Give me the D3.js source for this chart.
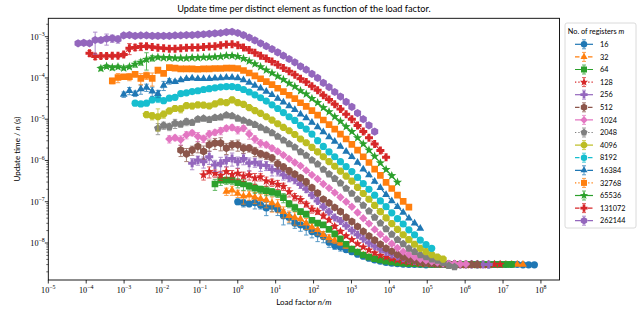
<!DOCTYPE html>
<html>
<head>
<meta charset="utf-8">
<script src="https://cdn.jsdelivr.net/npm/d3@7"></script>
<style>
  body { margin: 0; background: #fff; }
  svg { display: block; }
  text { font-family: Lato, "Noto Sans", sans-serif; fill: #000; }
  .num { font-family: "Liberation Serif", "DejaVu Serif", serif; }
</style>
</head>
<body>
<svg id="chart" width="641" height="311"></svg>
<script>
// number of registers m, one series each
const registers = [16, 32, 64, 128, 256, 512, 1024, 2048, 4096, 8192, 16384, 32768, 65536, 131072, 262144];

// log2 of the number of distinct elements n (same for every series)
const log2Distinct = [4, 4.5, 5, 5.5, 6, 6.5, 7, 7.5, 8, 8.5, 9, 9.5, 10, 10.5, 11, 11.5, 12, 12.5,
  13, 13.5, 14, 14.5, 15, 15.5, 16, 16.5, 17, 17.5, 18, 18.5, 19, 19.5, 20, 20.5, 21, 21.5, 22, 22.5,
  23, 23.5, 24, 24.5, 25, 25.5, 26, 26.5, 27, 27.5, 28, 28.5, 29, 29.5, 30];

// log10 of the update time / n in seconds
const logTime16 = [-7.00, -7.03, -7.05, -7.02, -7.08, -7.15, -7.11, -7.18, -7.34, -7.38, -7.52, -7.56, -7.62, -7.72,
  -7.78, -7.84, -7.98, -8.06, -8.10, -8.16, -8.21, -8.27, -8.32, -8.37, -8.41, -8.44, -8.47, -8.49,
  -8.50, -8.51, -8.52, -8.52, -8.52, -8.53, -8.52, -8.52, -8.52, -8.52, -8.53, -8.52, -8.52, -8.52,
  -8.52, -8.52, -8.53, -8.52, -8.52, -8.52, -8.52, -8.52, -8.53, -8.53, -8.53];
const logTime32 = [-6.75, -6.72, -6.80, -6.87, -6.84, -6.89, -6.93, -6.96, -7.03, -7.08, -7.24, -7.34, -7.38, -7.42,
  -7.52, -7.62, -7.68, -7.80, -7.88, -7.94, -8.00, -8.08, -8.16, -8.23, -8.29, -8.34, -8.38, -8.42,
  -8.45, -8.47, -8.49, -8.50, -8.50, -8.51, -8.52, -8.52, -8.51, -8.52, -8.53, -8.52, -8.52, -8.52,
  -8.52, -8.53, -8.52, -8.52, -8.52, -8.52, -8.53, -8.52, -8.52, -8.52, -8.52];
const logTime64 = [-6.57, -6.48, -6.48, -6.48, -6.54, -6.57, -6.62, -6.67, -6.70, -6.73, -6.76, -6.80, -6.90, -7.05,
  -7.14, -7.24, -7.30, -7.45, -7.52, -7.56, -7.67, -7.78, -7.90, -8.03, -8.15, -8.22, -8.29, -8.34,
  -8.38, -8.41, -8.44, -8.46, -8.48, -8.49, -8.50, -8.50, -8.51, -8.51, -8.52, -8.52, -8.52, -8.53,
  -8.52, -8.52, -8.52, -8.52, -8.53, -8.52, -8.52, -8.52, -8.52, -8.52, -8.52];
const logTime128 = [-6.35, -6.27, -6.31, -6.36, -6.27, -6.34, -6.31, -6.38, -6.35, -6.43, -6.40, -6.50, -6.53, -6.58,
  -6.63, -6.76, -6.88, -6.95, -7.06, -7.18, -7.24, -7.34, -7.44, -7.60, -7.72, -7.83, -7.92, -8.02,
  -8.10, -8.17, -8.24, -8.30, -8.34, -8.38, -8.41, -8.44, -8.46, -8.47, -8.49, -8.50, -8.50, -8.51,
  -8.51, -8.52, -8.52, -8.52, -8.53, -8.52, -8.52, -8.53, -8.52, -8.52, -8.52];
const logTime256 = [-6.07, -5.99, -6.03, -5.91, -6.11, -6.07, -6.00, -5.95, -6.03, -5.95, -6.07, -6.04, -6.11, -6.12,
  -6.22, -6.25, -6.35, -6.42, -6.47, -6.58, -6.70, -6.84, -6.98, -7.12, -7.24, -7.38, -7.47, -7.58,
  -7.70, -7.80, -7.90, -8.00, -8.08, -8.15, -8.22, -8.28, -8.33, -8.37, -8.40, -8.43, -8.45, -8.47,
  -8.48, -8.49, -8.50, -8.51, -8.51, -8.52, -8.52, -8.52, -8.52, -8.52, -8.52];
const logTime512 = [-5.75, -5.84, -5.75, -5.66, -5.78, -5.62, -5.58, -5.58, -5.70, -5.62, -5.62, -5.70, -5.70, -5.78,
  -5.84, -5.88, -5.94, -6.08, -6.16, -6.25, -6.33, -6.42, -6.52, -6.66, -6.79, -6.94, -7.03, -7.14,
  -7.24, -7.38, -7.48, -7.60, -7.72, -7.83, -7.93, -8.03, -8.13, -8.20, -8.28, -8.34, -8.39, -8.42,
  -8.45, -8.47, -8.49, -8.50, -8.50, -8.51, -8.51, -8.52, -8.52, -8.52, -8.52];
const logTime1024 = [-5.48, -5.45, -5.50, -5.38, -5.33, -5.42, -5.47, -5.36, -5.32, -5.28, -5.22, -5.20, -5.26, -5.22,
  -5.36, -5.48, -5.58, -5.62, -5.70, -5.78, -5.87, -5.96, -6.05, -6.13, -6.24, -6.35, -6.45, -6.57,
  -6.67, -6.78, -6.89, -7.00, -7.12, -7.26, -7.40, -7.53, -7.67, -7.79, -7.91, -8.02, -8.12, -8.21,
  -8.28, -8.34, -8.39, -8.42, -8.45, -8.47, -8.49, -8.50, -8.50, -8.51, -8.51];
const logTime2048 = [-5.22, -5.15, -5.18, -5.10, -5.12, -5.06, -5.08, -5.00, -4.98, -5.01, -4.96, -4.95, -4.90, -4.92,
  -4.98, -5.03, -5.08, -5.13, -5.20, -5.26, -5.33, -5.42, -5.51, -5.60, -5.68, -5.79, -5.88, -5.99,
  -6.09, -6.22, -6.33, -6.44, -6.55, -6.68, -6.80, -6.94, -7.09, -7.23, -7.38, -7.52, -7.66, -7.79,
  -7.92, -8.02, -8.13, -8.21, -8.29, -8.34, -8.39, -8.42, -8.48, -8.55, -8.58];
const logTime4096 = [-4.89, -4.92, -4.94, -4.88, -4.80, -4.74, -4.75, -4.67, -4.68, -4.65, -4.66, -4.68, -4.63, -4.58,
  -4.60, -4.53, -4.60, -4.64, -4.72, -4.79, -4.86, -4.94, -5.02, -5.11, -5.20, -5.28, -5.37, -5.48,
  -5.57, -5.68, -5.79, -5.91, -6.03, -6.14, -6.26, -6.38, -6.50, -6.65, -6.80, -6.94, -7.09, -7.24,
  -7.39, -7.53, -7.67, -7.80, -7.92, -8.03, -8.13, -8.21, -8.28, -8.34, -8.39];
const logTime8192 = [-4.61, -4.63, -4.61, -4.53, -4.50, -4.55, -4.49, -4.47, -4.38, -4.36, -4.33, -4.31, -4.28, -4.26,
  -4.24, -4.22, -4.21, -4.21, -4.23, -4.28, -4.34, -4.41, -4.48, -4.56, -4.65, -4.74, -4.84, -4.94,
  -5.03, -5.15, -5.24, -5.36, -5.52, -5.66, -5.79, -5.91, -6.03, -6.15, -6.27, -6.41, -6.56, -6.70,
  -6.84, -6.98, -7.12, -7.27, -7.41, -7.54, -7.68, -7.80, -7.93, -8.04, -8.13];
const logTime16384 = [-4.40, -4.31, -4.38, -4.27, -4.23, -4.32, -4.38, -4.18, -4.08, -4.09, -4.05, -4.02, -4.01, -4.02,
  -4.02, -4.02, -4.01, -4.00, -3.99, -3.99, -4.00, -4.05, -4.11, -4.18, -4.25, -4.33, -4.41, -4.50,
  -4.59, -4.68, -4.77, -4.88, -4.97, -5.08, -5.19, -5.31, -5.43, -5.54, -5.66, -5.78, -5.91, -6.05,
  -6.21, -6.35, -6.51, -6.66, -6.83, -6.98, -7.12, -7.26, -7.40, -7.52, -7.65];
const logTime32768 = [-4.07, -3.99, -3.97, -3.97, -3.91, -4.01, -3.94, -4.01, -3.81, -3.89, -3.75, -3.76, -3.78, -3.78,
  -3.78, -3.79, -3.78, -3.78, -3.77, -3.77, -3.76, -3.76, -3.77, -3.82, -3.88, -3.95, -4.02, -4.09,
  -4.16, -4.25, -4.33, -4.42, -4.50, -4.60, -4.69, -4.79, -4.90, -5.02, -5.13, -5.24, -5.36, -5.48,
  -5.61, -5.75, -5.91, -6.05, -6.21, -6.36, -6.53, -6.68, -6.84, -6.99, -7.13];
const logTime65536 = [-3.77, -3.72, -3.75, -3.73, -3.76, -3.73, -3.67, -3.62, -3.55, -3.52, -3.50, -3.51, -3.51, -3.52,
  -3.52, -3.52, -3.51, -3.51, -3.50, -3.50, -3.49, -3.48, -3.46, -3.46, -3.48, -3.53, -3.59, -3.66,
  -3.73, -3.81, -3.88, -3.96, -4.04, -4.13, -4.21, -4.31, -4.39, -4.50, -4.60, -4.72, -4.82, -4.94,
  -5.05, -5.18, -5.30, -5.45, -5.60, -5.75, -5.90, -6.06, -6.22, -6.37, -6.53];
const logTime131072 = [-3.40, -3.48, -3.47, -3.47, -3.46, -3.46, -3.43, -3.28, -3.26, -3.24, -3.23, -3.25, -3.27, -3.28,
  -3.29, -3.29, -3.28, -3.27, -3.26, -3.26, -3.25, -3.24, -3.23, -3.21, -3.19, -3.18, -3.21, -3.26,
  -3.32, -3.39, -3.46, -3.53, -3.60, -3.68, -3.76, -3.84, -3.92, -4.02, -4.10, -4.20, -4.30, -4.42,
  -4.52, -4.64, -4.75, -4.88, -5.00, -5.15, -5.30, -5.45, -5.60, -5.76, -5.92];
const logTime262144 = [-3.16, -3.15, -3.16, -3.08, -3.08, -3.05, -3.04, -3.06, -2.97, -2.96, -2.98, -2.97, -2.97, -2.98,
  -2.98, -2.98, -2.98, -2.97, -2.97, -2.96, -2.96, -2.95, -2.94, -2.93, -2.92, -2.91, -2.89, -2.88,
  -2.91, -2.96, -3.02, -3.09, -3.16, -3.23, -3.30, -3.38, -3.46, -3.54, -3.62, -3.72, -3.80, -3.90,
  -4.00, -4.12, -4.22, -4.34, -4.45, -4.58, -4.70, -4.85, -5.00, -5.15, -5.30];

// relative error of the first points of each series (the rest have none visible)
const relErr16 = [0.15, 0.2, 0.15, 0.3, 0.2, 0.35, 0.25, 0.3, 0.4, 0.3, 0.25, 0.3, 0.35, 0.3, 0.35, 0.3, 0.25, 0.2, 0.2, 0.15, 0.15, 0.1, 0.1, 0.08, 0.05, 0.04, 0.03];
const relErr32 = [0.2, 0.25, 0.2, 0.35, 0.25, 0.3, 0.3, 0.35, 0.4, 0.35, 0.3, 0.3, 0.35, 0.3, 0.3, 0.25, 0.25, 0.2, 0.2, 0.15, 0.12, 0.1, 0.08, 0.06, 0.04, 0.03];
const relErr64 = [0.3, 0.25, 0.2, 0.2, 0.25, 0.3, 0.2, 0.25, 0.2, 0.25, 0.2, 0.2, 0.25, 0.2, 0.2, 0.15, 0.15, 0.12, 0.1, 0.1, 0.08, 0.06, 0.05, 0.04, 0.03];
const relErr128 = [0.25, 0.3, 0.2, 0.25, 0.3, 0.25, 0.3, 0.25, 0.25, 0.3, 0.2, 0.25, 0.2, 0.25, 0.2, 0.25, 0.2, 0.2, 0.15, 0.2, 0.15, 0.15, 0.1, 0.1, 0.08, 0.06, 0.05, 0.04];
const relErr256 = [0.3, 0.25, 0.3, 0.35, 0.3, 0.4, 0.3, 0.35, 0.3, 0.3, 0.35, 0.25, 0.3, 0.25, 0.3, 0.25, 0.25, 0.2, 0.2, 0.2, 0.15, 0.15, 0.12, 0.1, 0.1, 0.08, 0.06, 0.05, 0.04];
const relErr512 = [0.3, 0.35, 0.25, 0.3, 0.35, 0.3, 0.3, 0.35, 0.3, 0.25, 0.3, 0.25, 0.2, 0.25, 0.2, 0.2, 0.2, 0.25, 0.2, 0.2, 0.15, 0.15, 0.2, 0.15, 0.15, 0.12, 0.1, 0.1, 0.08, 0.06, 0.05, 0.04];
const relErr1024 = [0.2, 0.15, 0.25, 0.2, 0.15, 0.25, 0.2, 0.2, 0.15, 0.2, 0.15, 0.15, 0.2, 0.15, 0.25, 0.2, 0.2, 0.15, 0.15, 0.12, 0.1, 0.1, 0.08, 0.06, 0.05, 0.04];
const relErr2048 = [0.3, 0.2, 0.2, 0.25, 0.15, 0.2, 0.15, 0.15, 0.12, 0.15, 0.1, 0.1, 0.1, 0.08, 0.1, 0.1, 0.12, 0.1, 0.08, 0.06, 0.05, 0.04];
const relErr4096 = [0.15, 0.2, 0.55, 0.2, 0.15, 0.15, 0.2, 0.12, 0.15, 0.1, 0.12, 0.1, 0.1, 0.08, 0.1, 0.15, 0.1, 0.08, 0.06, 0.05, 0.04];
const relErr8192 = [0.1, 0.12, 0.1, 0.15, 0.2, 0.12, 0.1, 0.12, 0.08, 0.1, 0.08, 0.06, 0.05, 0.05, 0.04, 0.04];
const relErr16384 = [0.15, 0.2, 0.15, 0.25, 0.2, 0.25, 0.2, 0.25, 0.15, 0.1, 0.08, 0.06, 0.05, 0.04];
const relErr32768 = [0.15, 0.25, 0.1, 0.2, 0.15, 0.3, 0.2, 0.35, 0.15, 0.1, 0.06, 0.05, 0.04];
const relErr65536 = [0.12, 0.1, 0.12, 0.1, 0.1, 0.1, 0.15, 0.15, 0.45, 0.15, 0.08, 0.05, 0.04];
const relErr131072 = [0.15, 0.15, 0.12, 0.12, 0.1, 0.1, 0.12, 0.3, 0.15, 0.2, 0.1, 0.08, 0.06, 0.05, 0.04];
const relErr262144 = [0.12, 0.1, 0.1, 0.55, 0.15, 0.3, 0.2, 0.2, 0.1, 0.08, 0.06, 0.04];

const xTickExps = [-5, -4, -3, -2, -1, 0, 1, 2, 3, 4, 5, 6, 7, 8];
const yTickExps = [-8, -7, -6, -5, -4, -3];

const logTimes = [logTime16, logTime32, logTime64, logTime128, logTime256, logTime512, logTime1024, logTime2048,
  logTime4096, logTime8192, logTime16384, logTime32768, logTime65536, logTime131072, logTime262144];
const relErrs = [relErr16, relErr32, relErr64, relErr128, relErr256, relErr512, relErr1024, relErr2048,
  relErr4096, relErr8192, relErr16384, relErr32768, relErr65536, relErr131072, relErr262144];

// styles (matplotlib tab10 + a marker / linestyle cycle)
const colors = ['#1f77b4', '#ff7f0e', '#2ca02c', '#d62728', '#9467bd', '#8c564b', '#e377c2', '#7f7f7f', '#bcbd22', '#17becf'];
const markerCycle = ['o', '^', 's', '*', 'P', 'h', 'D', 'p', '8'];
const dashCycle = [null, '4.5,2', '7,2,1.3,2', '1.3,2'];

const svg = d3.select('#chart');
const plot = { left: 48.3, right: 559.5, top: 18.3, bottom: 280 };

const x = d3.scaleLog().domain([1e-5, Math.pow(10, 8.49)]).range([plot.left, plot.right]);
const y = d3.scaleLog().domain([Math.pow(10, -8.897), Math.pow(10, -2.554)]).range([plot.bottom, plot.top]);

function polygon(n, r, startDeg) {
  const p = d3.path();
  for (let i = 0; i < n; i++) {
    const a = (startDeg + i * 360 / n) * Math.PI / 180;
    if (i === 0) p.moveTo(r * Math.cos(a), r * Math.sin(a));
    else p.lineTo(r * Math.cos(a), r * Math.sin(a));
  }
  p.closePath();
  return p.toString();
}

function star(ro, ri) {
  const p = d3.path();
  for (let i = 0; i < 10; i++) {
    const r = i % 2 ? ri : ro;
    const a = (-90 + i * 36) * Math.PI / 180;
    if (i === 0) p.moveTo(r * Math.cos(a), r * Math.sin(a));
    else p.lineTo(r * Math.cos(a), r * Math.sin(a));
  }
  p.closePath();
  return p.toString();
}

function plus(r, w) {
  return `M${-w},${-r}H${w}V${-w}H${r}V${w}H${w}V${r}H${-w}V${w}H${-r}V${-w}H${-w}Z`;
}

const markerPaths = {
  'o': d3.symbol(d3.symbolCircle, Math.PI * 3.6 * 3.6)(),
  '^': polygon(3, 4.5, -90),
  's': polygon(4, 4.7, -45),
  '*': star(4.8, 2.0),
  'P': plus(4.0, 1.5),
  'h': polygon(6, 4.1, -90),
  'D': polygon(4, 4.2, -90),
  'p': polygon(5, 4.1, -90),
  '8': polygon(8, 3.9, -67.5)
};

// title
svg.append('text')
  .attr('x', (plot.left + plot.right) / 2)
  .attr('y', 12.3)
  .attr('text-anchor', 'middle')
  .style('font-size', '9.2px')
  .text('Update time per distinct element as function of the load factor.');

// axes ticks
const axes = svg.append('g');

xTickExps.forEach(e => {
  const px = x(Math.pow(10, e));
  axes.append('line')
    .attr('x1', px).attr('x2', px)
    .attr('y1', plot.bottom).attr('y2', plot.bottom + 3.5)
    .attr('stroke', '#000').attr('stroke-width', 0.8);
  const t = axes.append('text')
    .attr('class', 'num')
    .attr('x', px)
    .attr('y', 292.5)
    .attr('text-anchor', 'middle')
    .style('font-size', '8.2px');
  t.append('tspan').text('10');
  t.append('tspan').attr('dy', -3.3).style('font-size', '5.9px').text(e < 0 ? '\u2212' + (-e) : String(e));
});

for (let d = -9; d <= -3; d++) {
  for (let k = 1; k <= 9; k++) {
    const v = k * Math.pow(10, d);
    if (v < y.domain()[0] || v > y.domain()[1]) continue;
    const py = y(v);
    axes.append('line')
      .attr('x1', plot.left).attr('x2', plot.left - (k === 1 ? 3.5 : 2))
      .attr('y1', py).attr('y2', py)
      .attr('stroke', '#000').attr('stroke-width', k === 1 ? 0.8 : 0.6);
  }
}

yTickExps.forEach(e => {
  const py = y(Math.pow(10, e));
  const t = axes.append('text')
    .attr('class', 'num')
    .attr('x', 44.8)
    .attr('y', py + 2.8)
    .attr('text-anchor', 'end')
    .style('font-size', '8.2px');
  t.append('tspan').text('10');
  t.append('tspan').attr('dy', -3.3).style('font-size', '5.9px').text('\u2212' + (-e));
});

// axis labels
const xl = svg.append('text')
  .attr('x', (plot.left + plot.right) / 2)
  .attr('y', 305)
  .attr('text-anchor', 'middle')
  .style('font-size', '8px');
xl.append('tspan').text('Load factor ');
xl.append('tspan').style('font-style', 'italic').text('n/m');

const yl = svg.append('text')
  .attr('transform', `translate(19.5,${(plot.top + plot.bottom) / 2}) rotate(-90)`)
  .attr('text-anchor', 'middle')
  .style('font-size', '8px');
yl.append('tspan').text('Update time / ');
yl.append('tspan').style('font-style', 'italic').text('n');
yl.append('tspan').text(' (s)');

// data
svg.append('clipPath').attr('id', 'clip')
  .append('rect')
  .attr('x', plot.left).attr('y', plot.top)
  .attr('width', plot.right - plot.left).attr('height', plot.bottom - plot.top);

const dataLayer = svg.append('g').attr('clip-path', 'url(#clip)');
const line = d3.line().x(d => x(d.x)).y(d => y(d.y));

registers.forEach((m, i) => {
  const color = colors[i % colors.length];
  const marker = markerPaths[markerCycle[i % markerCycle.length]];
  const dash = dashCycle[i % dashCycle.length];
  const pts = logTimes[i].map((lt, j) => ({
    x: Math.pow(2, log2Distinct[j]) / m,
    y: Math.pow(10, lt),
    e: relErrs[i][j] || 0
  }));

  const g = dataLayer.append('g');
  g.append('path')
    .datum(pts)
    .attr('d', line)
    .attr('fill', 'none')
    .attr('stroke', color)
    .attr('stroke-width', 1.2)
    .attr('stroke-dasharray', dash);

  const bars = g.append('g')
    .attr('stroke', color)
    .attr('stroke-width', 1)
    .attr('opacity', 0.75);
  pts.filter(p => p.e > 0).forEach(p => {
    const px = x(p.x);
    const y0 = y(p.y * (1 - Math.min(p.e, 0.95)));
    const y1 = y(p.y * (1 + p.e));
    bars.append('line').attr('x1', px).attr('x2', px).attr('y1', y0).attr('y2', y1);
    bars.append('line').attr('x1', px - 2.2).attr('x2', px + 2.2).attr('y1', y0).attr('y2', y0);
    bars.append('line').attr('x1', px - 2.2).attr('x2', px + 2.2).attr('y1', y1).attr('y2', y1);
  });

  g.selectAll('path.mk')
    .data(pts)
    .enter()
    .append('path')
    .attr('class', 'mk')
    .attr('d', marker)
    .attr('transform', d => `translate(${x(d.x)},${y(d.y)})`)
    .attr('fill', color);
});

// frame
svg.append('rect')
  .attr('x', plot.left).attr('y', plot.top)
  .attr('width', plot.right - plot.left).attr('height', plot.bottom - plot.top)
  .attr('fill', 'none')
  .attr('stroke', '#000')
  .attr('stroke-width', 0.9);

// legend
const legend = svg.append('g');
legend.append('rect')
  .attr('x', 565).attr('y', 23)
  .attr('width', 71).attr('height', 205)
  .attr('rx', 2)
  .attr('fill', '#fff')
  .attr('stroke', '#d0d0d0')
  .attr('stroke-width', 0.8);

const lt = legend.append('text')
  .attr('x', 567.8).attr('y', 33.6)
  .style('font-size', '7.3px');
lt.append('tspan').text('No. of registers ');
lt.append('tspan').style('font-style', 'italic').text('m');

registers.forEach((m, i) => {
  const cy = 44.3 + i * 12.6;
  const color = colors[i % colors.length];
  const row = legend.append('g');
  row.append('line')
    .attr('x1', 575).attr('x2', 593)
    .attr('y1', cy).attr('y2', cy)
    .attr('stroke', color).attr('stroke-width', 1.2)
    .attr('stroke-dasharray', dashCycle[i % dashCycle.length]);
  const eb = row.append('g').attr('stroke', color).attr('stroke-width', 1).attr('opacity', 0.75);
  eb.append('line').attr('x1', 584).attr('x2', 584).attr('y1', cy - 4.5).attr('y2', cy + 4.5);
  eb.append('line').attr('x1', 582).attr('x2', 586).attr('y1', cy - 4.5).attr('y2', cy - 4.5);
  eb.append('line').attr('x1', 582).attr('x2', 586).attr('y1', cy + 4.5).attr('y2', cy + 4.5);
  row.append('path')
    .attr('d', markerPaths[markerCycle[i % markerCycle.length]])
    .attr('transform', `translate(584,${cy}) scale(0.9)`)
    .attr('fill', color);
  row.append('text')
    .attr('x', 600).attr('y', cy + 2.6)
    .style('font-size', '7.3px')
    .text(m);
});
</script>
</body>
</html>
